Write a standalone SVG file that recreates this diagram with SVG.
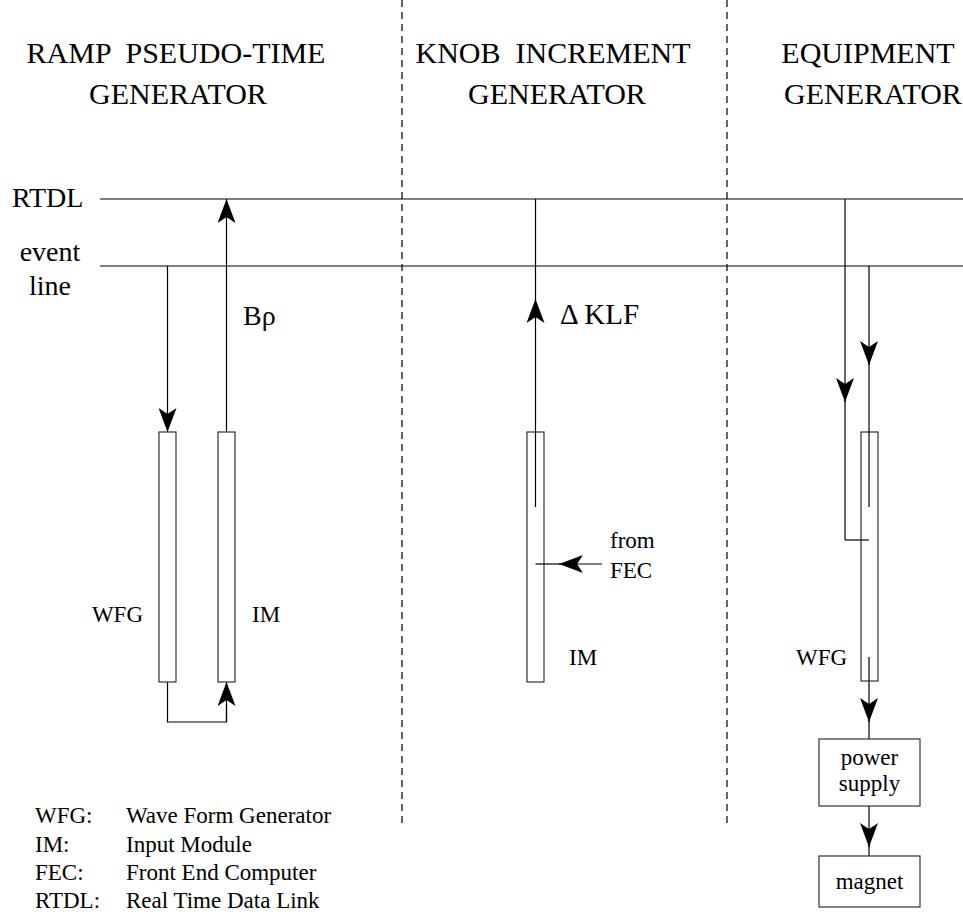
<svg xmlns="http://www.w3.org/2000/svg" width="963" height="918" viewBox="0 0 963 918" font-family="'Liberation Serif', Tinos, 'Times New Roman', Times, 'DejaVu Serif', serif">
<style>
text{font-family:'Liberation Serif',Tinos,'Times New Roman',Times,'DejaVu Serif',serif;fill:#000}
.h{font-size:30px}
.s{font-size:28px}
.b{font-size:23px}
.ln{stroke:#000;stroke-width:1.2;fill:none}
.dash{stroke:#000;stroke-width:1.2;stroke-dasharray:7 5;fill:none}
.box{fill:#fff;stroke:#333;stroke-width:1.2}
.arr{stroke:#000;stroke-width:1.2;fill:none;marker-end:url(#ah)}
</style>
<defs>
<marker id="ah" markerUnits="userSpaceOnUse" markerWidth="24" markerHeight="18" refX="24" refY="9" orient="auto" viewBox="0 0 24 18"><path d="M0,0 L24,9 L0,18 L6,9 z" fill="#000"/></marker>
</defs>
<rect width="963" height="918" fill="#fff"/>
<g id="headings">
<text class="h" x="176" y="63" text-anchor="middle" xml:space="preserve" style="white-space:pre">RAMP  PSEUDO-TIME</text>
<text class="h" x="178" y="104" text-anchor="middle">GENERATOR</text>
<text class="h" x="553" y="63" text-anchor="middle" xml:space="preserve" style="white-space:pre">KNOB  INCREMENT</text>
<text class="h" x="557" y="104" text-anchor="middle">GENERATOR</text>
<text class="h" x="868" y="63" text-anchor="middle">EQUIPMENT</text>
<text class="h" x="873" y="104" text-anchor="middle">GENERATOR</text>
</g>
<g id="dividers">
<line class="dash" x1="402" y1="0" x2="402" y2="826"/>
<line class="dash" x1="727" y1="0" x2="727" y2="826"/>
</g>
<g id="buses">
<line class="ln" x1="100" y1="199" x2="963" y2="199"/>
<line class="ln" x1="100" y1="266" x2="963" y2="266"/>
<text class="s" x="12" y="207">RTDL</text>
<text class="s" x="50" y="261" text-anchor="middle">event</text>
<text class="s" x="50" y="295" text-anchor="middle">line</text>
</g>
<g id="connectors">
<line class="arr" x1="167.5" y1="266" x2="167.5" y2="432"/>
<polyline class="ln" points="167.5,682 167.5,722 226.5,722 226.5,705"/>
<line class="arr" x1="226.5" y1="722" x2="226.5" y2="682"/>
<line class="arr" x1="226.5" y1="432" x2="226.5" y2="199"/>
<line class="ln" x1="535.5" y1="199" x2="535.5" y2="300"/>
<line class="arr" x1="535.5" y1="432" x2="535.5" y2="299"/>
<line class="arr" x1="845" y1="199" x2="845" y2="402"/>
<line class="arr" x1="869" y1="266" x2="869" y2="365"/>
<line class="arr" x1="869" y1="681" x2="869" y2="722"/>
<line class="ln" x1="869" y1="720" x2="869" y2="739"/>
<line class="arr" x1="869" y1="806" x2="869" y2="847"/>
<line class="ln" x1="869" y1="845" x2="869" y2="856"/>
</g>
<g id="wfg-ramp">
<rect class="box" x="159" y="432" width="17" height="250"/>
<text class="b" x="143" y="622" text-anchor="end">WFG</text>
</g>
<g id="im-ramp">
<rect class="box" x="218" y="432" width="17" height="250"/>
<text class="b" x="252" y="622">IM</text>
<text class="s" x="243" y="325">Bρ</text>
</g>
<g id="im-knob">
<rect class="box" x="527" y="432" width="17" height="250"/>
<line class="ln" x1="535.5" y1="432" x2="535.5" y2="507"/>
<line class="ln" x1="535.5" y1="564" x2="560" y2="564"/>
<line class="arr" x1="602" y1="564" x2="559" y2="564"/>
<text class="b" x="569" y="665">IM</text>
<text class="b" x="610" y="548">from</text>
<text class="b" x="610" y="578">FEC</text>
<text class="s" x="560" y="324" style="font-size:29px">Δ KLF</text>
</g>
<g id="wfg-equip">
<rect class="box" x="861" y="432" width="17" height="249"/>
<line class="ln" x1="845" y1="400" x2="845" y2="540"/>
<polyline class="ln" points="845,540 869,540"/>
<line class="ln" x1="869" y1="363" x2="869" y2="507"/>
<line class="ln" x1="869" y1="657" x2="869" y2="681"/>
<text class="b" x="796" y="665">WFG</text>
</g>
<g id="power-supply">
<rect class="box" x="819" y="739" width="101" height="67"/>
<text class="b" x="869.5" y="765" text-anchor="middle">power</text>
<text class="b" x="869.5" y="791" text-anchor="middle">supply</text>
</g>
<g id="magnet">
<rect class="box" x="819" y="856" width="101" height="51"/>
<text class="b" x="869.5" y="889" text-anchor="middle">magnet</text>
</g>
<g id="legend">
<text class="b" x="35" y="823">WFG:</text>
<text class="b" x="126" y="823">Wave Form Generator</text>
<text class="b" x="35" y="852">IM:</text>
<text class="b" x="126" y="852">Input Module</text>
<text class="b" x="35" y="880">FEC:</text>
<text class="b" x="126" y="880">Front End Computer</text>
<text class="b" x="35" y="908">RTDL:</text>
<text class="b" x="126" y="908">Real Time Data Link</text>
</g>
</svg>
